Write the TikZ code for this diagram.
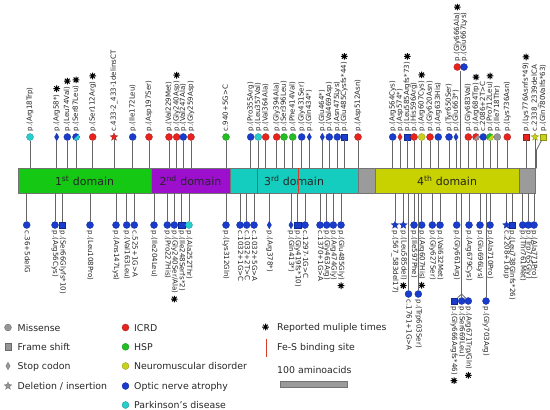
\documentclass[tikz,border=0pt]{standalone}
\usepackage{fontspec}
\setmainfont{DejaVu Sans}
\usetikzlibrary{shapes.geometric,calc}
\definecolor{cICRD}{RGB}{232,35,30}
\definecolor{cHSP}{RGB}{35,190,35}
\definecolor{cNM}{RGB}{200,210,30}
\definecolor{cOA}{RGB}{25,60,205}
\definecolor{cPD}{RGB}{40,205,205}
\definecolor{cMS}{RGB}{150,150,150}
\definecolor{dA}{RGB}{20,200,20}
\definecolor{dB}{RGB}{155,15,205}
\definecolor{dC}{RGB}{20,205,190}
\definecolor{dD}{RGB}{200,210,0}
\definecolor{dG}{RGB}{155,155,155}
\definecolor{feS}{RGB}{215,60,40}
\newcommand\mutfont{\fontsize{7.1}{8}\selectfont}
\newcommand\legfont{\fontsize{9.4}{11}\selectfont}
\newcommand\domfont{\fontsize{11}{13}\selectfont}
\tikzset{
  mc/.style={circle, fill=#1, draw=#1!70!black, line width=0.3bp, minimum size=7bp, inner sep=0pt},
  msq/.style={rectangle, fill=#1, draw=#1!70!black, line width=0.3bp, minimum size=6.6bp, inner sep=0pt},
  mdi/.style={diamond, fill=#1, draw=#1!70!black, line width=0.3bp, minimum width=4.4bp, minimum height=7.6bp, inner sep=0pt},
  mstar/.style={star, star points=5, star point ratio=2.3, fill=#1, draw=#1!70!black, line width=0.3bp, minimum size=8bp, inner sep=0pt},
  conn/.style={draw=black!60, line width=0.8bp},
  uplab/.style={rotate=90, anchor=west, inner sep=0pt, font=\mutfont, text=black!85, text height=5.3bp, text depth=1.7bp},
  dnlab/.style={rotate=-90, anchor=west, inner sep=0pt, font=\mutfont, text=black!85, text height=5.3bp, text depth=1.7bp},
  rep/.style={line width=1bp, draw=black},
  dom/.style={rectangle, draw=black!55, line width=0.5bp, minimum height=25bp, inner sep=0pt, font=\domfont, text=black!85},
  legtxt/.style={anchor=west, inner sep=0pt, font=\legfont, text=black!85, text height=7bp, text depth=0pt},
  fes/.style={draw=feS, line width=1bp}
}
\newcommand\repmark[1]{\path #1 coordinate (tmprep);
  \draw[rep] (tmprep) +(0,-3.3) -- +(0,3.3) +(-3.3,0) -- +(3.3,0) +(-2.35,-2.35) -- +(2.35,2.35) +(-2.35,2.35) -- +(2.35,-2.35);}
\newcommand\mkup[7]{\node[#4=#5] (#1) at (#2,#3) {};
  \node[uplab] (#1l) at (#2,#3-5.5) {#6};
  \ifnum#7=1 \repmark{($(#1l.east)+(0,-5.5)$)}\fi}
\newcommand\mutup[6]{\mkup{#1}{#2}{137}{#3}{#4}{#5}{#6}\draw[conn] (#1) -- (#1 |- bartop);}
\newcommand\mkdn[7]{\node[#4=#5] (#1) at (#2,#3) {};
  \node[dnlab] (#1l) at (#2,#3+5.5) {#6};
  \ifnum#7=1 \repmark{($(#1l.east)+(0,5.5)$)}\fi}
\newcommand\mutdn[6]{\mkdn{#1}{#2}{225}{#3}{#4}{#5}{#6}\draw[conn] (#1) -- (#1 |- barbot);}
\newcommand\splitmark[2]{\fill[#2] (#1.center) ++(-45:3.4) arc[start angle=-45, end angle=135, radius=3.4] -- cycle;}
\begin{document}
\begin{tikzpicture}[x=1bp,y=-1bp]
\useasboundingbox (0,0) rectangle (550,409);
\coordinate (bartop) at (0,168.3);
\coordinate (barbot) at (0,193.3);
% ---- protein bar
\node[dom, fill=dA, minimum width=133bp] (d1) at (84.5,180.8) {1\textsuperscript{st} domain};
\node[dom, fill=dB, minimum width=79bp] (d2) at (190.5,180.8) {2\textsuperscript{nd} domain};
\node[dom, fill=dC, minimum width=128bp] (d3) at (294,180.8) {3\textsuperscript{rd} domain};
\node[dom, fill=dG, minimum width=17bp] (g1) at (366.5,180.8) {};
\node[dom, fill=dD, minimum width=144bp] (d4) at (447,180.8) {4\textsuperscript{th} domain};
\node[dom, fill=dG, minimum width=16.5bp] (g2) at (527.25,180.8) {};
\draw[conn] (257,168.3) -- (257,193.3);
\draw[fes] (298,168.3) -- (298,193.3);
% ---- top row
\mutup{T1}{30}{mc}{cPD}{p.(Arg18Trp)}{0}
\mutup{T2}{56.7}{mdi}{cOA}{p.(Arg58*)}{1}
\mutup{T3}{67.3}{mc}{cOA}{p.(Leu74Val)}{1}
\mutup{T4}{76}{mc}{cOA}{p.(Ser87Leu)}{1}\splitmark{T4}{cPD}
\mutup{T5}{92.7}{mc}{cICRD}{p.(Ser112Arg)}{1}
\mutup{T6}{114}{mstar}{cICRD}{c.433-2\_433-1delinsCT}{0}
\mutup{T7}{132.7}{mc}{cOA}{p.(Ile172Leu)}{0}
\mutup{T8}{149}{mc}{cICRD}{p.(Asp197Ser)}{0}
\mutup{T9}{169}{mc}{cICRD}{p.(Val229Met)}{0}
\mutup{T10}{176.7}{mc}{cICRD}{p.(Gly240Asp)}{1}
\mutup{T11}{183.3}{mc}{cOA}{p.(Val247Ala)}{0}
\mutup{T12}{191}{mc}{cICRD}{p.(Gly259Asp)}{0}
\mutup{T13}{226}{mc}{cHSP}{c.940+5G>C}{0}
\mutup{T14}{250.7}{mc}{cOA}{p.(Pro355Arg)}{0}
\mutup{T15}{258.3}{mc}{cPD}{p.(Leu357Val)}{0}
\mutup{T16}{265.7}{mc}{cICRD}{p.(Val364Ala)}{0}
\mutup{T17}{276.7}{mc}{cICRD}{p.(Gly394Ala)}{0}
\mutup{T18}{284}{mc}{cHSP}{p.(Ser396Leu)}{0}
\mutup{T19}{292.7}{mc}{cHSP}{p.(Phe414Val)}{0}
\mutup{T20}{301.7}{mc}{cOA}{p.(Gly431Ser)}{0}
\mutup{T21}{309.3}{mdi}{cOA}{p.(Gln434*)}{0}
\mutup{T22}{322.3}{mdi}{cOA}{p.(Glu464*)}{0}
\mutup{T23}{329.3}{mc}{cOA}{p.(Val469Asp)}{0}
\mutup{T24}{337.3}{mc}{cOA}{p.(Asn475Lys)}{0}
\mutup{T25}{344.3}{msq}{cOA}{p.(Glu485Cysfs*44)}{1}
\mutup{T26}{358}{mc}{cICRD}{p.(Asp512Asn)}{0}
\mutup{T27}{392.7}{mc}{cOA}{p.(Arg564Cys)}{0}
\mutup{T28}{400}{mdi}{cICRD}{p.(Asp574*)}{0}
\mutup{T29}{407.3}{msq}{cOA}{p.(Leu585Argfs*73)}{1}
\mutup{T30}{414}{mc}{cICRD}{p.(His596Arg)}{0}
\mutup{T31}{421.7}{mc}{cNM}{p.(Arg607Cys)}{1}
\mutup{T32}{430}{mc}{cICRD}{p.(Gly620Asn)}{0}
\mutup{T33}{438.3}{mc}{cOA}{p.(Arg633His)}{0}
\mutup{T34}{449}{mc}{cOA}{p.(Tyr650Ser)}{0}
\mutup{T35}{456}{mdi}{cOA}{p.(Glu663*)}{0}
\mkup{T36}{457.3}{67}{mc}{cICRD}{p.(Gly666Ala)}{1}
\mkup{T37}{464}{67}{mc}{cOA}{p.(Glu667Lys)}{0}
\coordinate (t666) at (460.7,70.5);
\draw[conn, line width=1.3bp] (t666) -- (t666 |- bartop);
\mutup{T38}{468.3}{mc}{cICRD}{p.(Gly683Val)}{0}
\mutup{T39}{476}{mc}{cICRD}{p.(Arg684Trp)}{1}\splitmark{T39}{cMS}
\mutup{T40}{483.3}{mc}{cOA}{c.2086+2T>C}{0}
\mutup{T41}{490}{mc}{cHSP}{p.(Pro712Leu)}{1}\splitmark{T41}{cNM}
\mutup{T42}{497.3}{mc}{cMS}{p.(Ile718Thr)}{0}
\mutup{T43}{507.3}{mc}{cICRD}{p.(Lys736Asn)}{0}
\mutup{T44}{526}{msq}{cICRD}{p.(Lys776Asnfs*49)}{1}
\mutup{T45}{535}{mstar}{cNM}{c.2338\_2339delCA}{0}
\mkup{T46}{543.3}{137}{msq}{cNM}{p.(Gln780Valfs*63)}{0}
\coordinate (t780) at (536.5,150);
\draw[conn] (T46) -- (t780) -- (t780 |- bartop);
% ---- bottom row
\mutdn{B1}{26.7}{mc}{cOA}{c.36+5delG}{0}
\mutdn{B2}{55}{mc}{cOA}{p.(Arg56Cys)}{0}
\mutdn{B3}{62.3}{msq}{cOA}{p.(Ser66Glyfs*10)}{0}
\mutdn{B4}{90}{mc}{cOA}{p.(Leu108Pro)}{0}
\mutdn{B5}{116}{mc}{cOA}{p.(Ans147Lys)}{0}
\mutdn{B6}{126.7}{mc}{cOA}{p.(Val163Leu)}{0}
\mutdn{B7}{134.3}{mc}{cOA}{c.525+1G>A}{0}
\mutdn{B8}{154}{mc}{cOA}{p.(Ile204Leu)}{0}
\mutdn{B9}{167.3}{mc}{cOA}{p.(Pro227His)}{0}
\mutdn{B10}{174.3}{mc}{cOA}{p.(Gly240Ser/Ala)}{1}
\mutdn{B11}{181.7}{msq}{cOA}{p.(Ile248Serfs*2)}{0}
\mutdn{B12}{189}{mc}{cPD}{p.(Ala252Thr)}{0}
\mutdn{B13}{226}{mc}{cOA}{p.(Lys312Gln)}{0}
\mutdn{B14}{240}{mc}{cOA}{c.1032+1G>C}{0}
\mutdn{B15}{246.7}{mc}{cOA}{c.1032+2T>C}{0}
\mutdn{B16}{254}{mc}{cOA}{c.1032+5G>A}{0}
\mutdn{B17}{269.3}{mdi}{cOA}{p.(Arg378*)}{0}
\mutdn{B18}{291}{mdi}{cOA}{p.(Gln413*)}{0}
\mutdn{B19}{297.7}{msq}{cOA}{p.(Gly419fs*10)}{0}
\mutdn{B20}{305}{mc}{cOA}{c.1297-1G>C}{0}
\mutdn{B21}{320}{mc}{cOA}{c.1370+1G>A}{0}
\mutdn{B22}{326.7}{mc}{cOA}{p.(Gly463Arg)}{0}
\mutdn{B23}{333.3}{mc}{cOA}{p.(Arg474Gly)}{0}
\mutdn{B24}{341}{mc}{cOA}{p.(Glu485Gly)}{1}
\mutdn{B25}{395}{mstar}{cOA}{p.(567\_583del17)}{0}
\mutdn{B26}{403.3}{mstar}{cOA}{p.(Leu585del)}{1}
\mutdn{B27}{414}{mc}{cOA}{p.(Ile597Phe)}{0}
\mutdn{B28}{421.7}{mc}{cOA}{p.(Arg607His)}{1}
\mutdn{B29}{432.3}{mc}{cOA}{p.(Gly627Ser)}{0}
\mutdn{B30}{440}{mc}{cOA}{p.(Val632Met)}{0}
\mutdn{B31}{456.7}{mc}{cOA}{p.(Gly661Arg)}{0}
\mutdn{B32}{469}{mc}{cOA}{p.(Arg679Cys)}{0}
\mutdn{B33}{480}{mc}{cOA}{p.(Glu696Lys)}{0}
\mutdn{B34}{490}{mc}{cOA}{p.(Ala710Pro)}{0}
\mutdn{B35}{506.5}{mstar}{cOA}{c.2208+1dup}{0}
\mutdn{B36}{512}{msq}{cOA}{p.(Leu738Glnfs*26)}{0}
\mutdn{B37}{522.7}{mc}{cOA}{p.(Thr761Met)}{0}
\mutdn{B38}{528.3}{mc}{cOA}{p.(Trp765Gly)}{0}
\mutdn{B39}{534}{mc}{cOA}{p.(Ala771Pro)}{0}
% ---- second bottom row
\mkdn{C1}{408.5}{294}{mc}{cOA}{c.1761+1G>A}{0}
\draw[conn] (C1) -- (C1 |- barbot);
\mkdn{C2}{418.3}{294}{mc}{cOA}{p.(Trp603Ser)}{0}
\draw[conn] (C2) -- (C2 |- barbot);
\mkdn{C3}{454}{301}{msq}{cOA}{p.(Gly666Argfs*46)}{1}
\mkdn{C4}{461.7}{301}{mc}{cOA}{p.(Ser669Leu)}{0}
\mkdn{C5}{468.3}{301}{mc}{cOA}{p.(Arg671Trp/Gln)}{1}
\coordinate (j669) at (461.7,294);
\draw[conn, line width=1.3bp] (j669 |- barbot) -- (j669);
\draw[conn] (j669) -- (C3);
\draw[conn] (j669) -- (C4);
\draw[conn] (j669) -- (C5);
\mkdn{C6}{486}{301}{mc}{cOA}{p.(Gly703Arg)}{0}
\draw[conn] (C6) -- (C6 |- barbot);
% ---- legend
\node[mc=cMS] (lg1) at (8,327.5) {};
\node[legtxt] (lg1t) at (17.5,327.5) {Missense};
\node[msq=cMS] (lg2) at (8,346.8) {};
\node[legtxt] (lg2t) at (17.5,346.8) {Frame shift};
\node[mdi=cMS] (lg3) at (8,366) {};
\node[legtxt] (lg3t) at (17.5,366) {Stop codon};
\node[mstar=cMS] (lg4) at (8,386) {};
\node[legtxt] (lg4t) at (17.5,386) {Deletion / insertion};
\node[mc=cICRD] (ld1) at (125.5,327.5) {};
\node[legtxt] (ld1t) at (134,327.5) {ICRD};
\node[mc=cHSP] (ld2) at (125.5,346.8) {};
\node[legtxt] (ld2t) at (134,346.8) {HSP};
\node[mc=cNM] (ld3) at (125.5,366) {};
\node[legtxt] (ld3t) at (134,366) {Neuromuscular disorder};
\node[mc=cOA] (ld4) at (125.5,386) {};
\node[legtxt] (ld4t) at (134,386) {Optic nerve atrophy};
\node[mc=cPD] (ld5) at (125.5,405) {};
\node[legtxt] (ld5t) at (134,405) {Parkinson's disease};
\repmark{(265.5,327)}
\node[legtxt] (lr1t) at (277,327) {Reported muliple times};
\coordinate (fes1) at (266,338.5);
\coordinate (fes2) at (266,356.5);
\draw[fes] (fes1) -- (fes2);
\node[legtxt] (lr2t) at (277,346.8) {Fe-S binding site};
\node[legtxt] (lr3t) at (277,369.5) {100 aminoacids};
\node[rectangle, fill=dG, draw=black!55, line width=0.5bp, minimum width=67bp, minimum height=6bp, inner sep=0pt] (scalebar) at (313.5,384) {};
\end{tikzpicture}
\end{document}
